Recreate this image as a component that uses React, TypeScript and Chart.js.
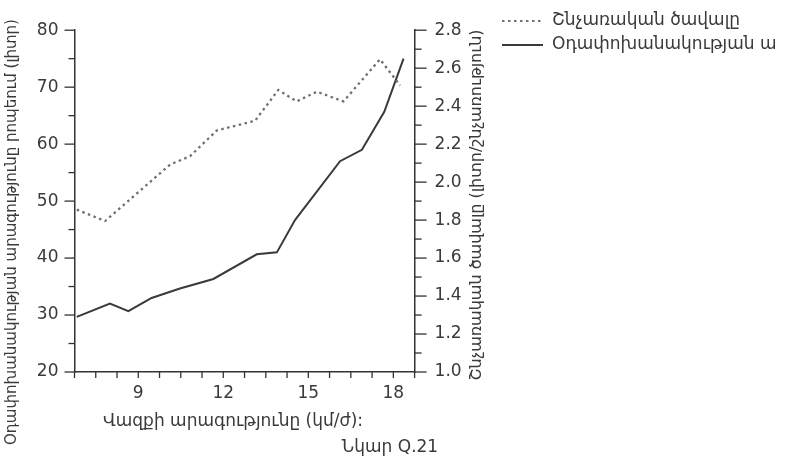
import React, { useEffect, useRef } from "react";
import { Chart, registerables } from "chart.js";

Chart.register(...registerables);

// ---- data ----
const volumeLabel = "Շնչառական ծավալը";
const ventLabel = "Օդափոխանակության արագությունը";
const xTitle = "Վազքի արագությունը (կմ/ժ):";
const leftTitle = "Օդափոխանակության արագությունը րոպեում (լիտր)";
const rightTitle = "Շնչառական ծավալը (լիտր/շնչառություն)";
const caption = "Նկար Q.21";

const dottedX = [6.83, 7.83, 10.12, 10.83, 11.77, 13.12, 13.94, 14.59, 15.3, 16.24, 17.53, 18.24];
const dottedY = [48.5, 46.5, 56.4, 57.9, 62.4, 64.1, 69.5, 67.5, 69.2, 67.5, 74.9, 70.3];

const solidX = [6.83, 8.0, 8.65, 9.47, 10.47, 11.65, 13.18, 13.89, 14.53, 16.12, 16.89, 17.68, 18.36];
const solidY = [1.29, 1.36, 1.32, 1.39, 1.44, 1.49, 1.62, 1.63, 1.8, 2.11, 2.17, 2.37, 2.65];

const xMin = 6.75, xMax = 18.75, xStep = 0.75;
const yMin = 20, yMax = 80, yStep = 5;
const y1Min = 1.0, y1Max = 2.8, y1Step = 0.1;

const AXIS = "#333333";
const TEXT = "#3a3a3a";
const FONT = "'DejaVu Sans', sans-serif";

const W = 777, H = 465;

const decor = {
  id: "decor",
  afterDraw(chart: any) {
    const ctx = chart.ctx;
    const sx = chart.scales.x, sy = chart.scales.y, sy1 = chart.scales.y1;
    ctx.save();
    ctx.strokeStyle = AXIS;
    ctx.lineWidth = 1.3;
    const line = (a: number, b: number, c: number, d: number) => {
      ctx.beginPath(); ctx.moveTo(a, b); ctx.lineTo(c, d); ctx.stroke();
    };
    sy.ticks.forEach((t: any) => {
      const py = sy.getPixelForValue(t.value);
      const major = Math.abs(t.value % 10) < 1e-6;
      line(sy.right - (major ? 10 : 6), py, sy.right, py);
    });
    sy1.ticks.forEach((t: any) => {
      const py = sy1.getPixelForValue(t.value);
      const major = Math.round(t.value * 10) % 2 === 0;
      line(sy1.left, py, sy1.left + (major ? 12 : 7), py);
    });
    sx.ticks.forEach((t: any) => {
      const px = sx.getPixelForValue(t.value);
      line(px, sx.top, px, sx.top + 6);
    });

    // legend
    ctx.lineWidth = 2.2;
    ctx.strokeStyle = "#707070";
    ctx.setLineDash([2.5, 3.5]);
    line(502, 21, 543, 21);
    ctx.setLineDash([]);
    ctx.strokeStyle = "#3a3a3a";
    line(502, 45, 543, 45);
    ctx.fillStyle = TEXT;
    ctx.font = `17px ${FONT}`;
    ctx.textAlign = "left";
    ctx.textBaseline = "middle";
    ctx.fillText(volumeLabel, 552, 21);
    ctx.fillText(ventLabel, 552, 45);

    // axis titles
    ctx.textAlign = "center";
    ctx.font = `17px ${FONT}`;
    ctx.fillText(xTitle, 233, 422);
    ctx.fillText(caption, 390, 448);
    ctx.font = `15px ${FONT}`;
    ctx.save();
    ctx.translate(12, 232);
    ctx.rotate(-Math.PI / 2);
    ctx.fillText(leftTitle, 0, 0);
    ctx.restore();
    ctx.font = `16px ${FONT}`;
    ctx.save();
    ctx.translate(477, 205);
    ctx.rotate(-Math.PI / 2);
    ctx.fillText(rightTitle, 0, 0);
    ctx.restore();
    ctx.restore();
  },
};

export default function App() {
  const ref = useRef<HTMLCanvasElement | null>(null);
  useEffect(() => {
    if (!ref.current) return;
    const chart = new Chart(ref.current, {
      type: "line",
      data: {
        datasets: [
          {
            label: volumeLabel,
            data: dottedX.map((x, i) => ({ x, y: dottedY[i] })),
            yAxisID: "y",
            borderColor: "#707070",
            borderWidth: 2.3,
            borderDash: [2.5, 3.5],
            pointRadius: 0,
            fill: false,
            tension: 0,
          },
          {
            label: ventLabel,
            data: solidX.map((x, i) => ({ x, y: solidY[i] })),
            yAxisID: "y1",
            borderColor: "#3a3a3a",
            borderWidth: 2,
            pointRadius: 0,
            fill: false,
            tension: 0,
          },
        ],
      },
      options: {
        responsive: false,
        animation: false,
        layout: { padding: { top: 20, right: W - 414.6 - 90, bottom: 0, left: 0 } },
        plugins: { legend: { display: false }, tooltip: { enabled: false }, title: { display: false } },
        scales: {
          x: {
            type: "linear",
            min: xMin,
            max: xMax,
            afterFit: (s: any) => { s.height = 93; },
            border: { display: true, color: AXIS, width: 1.5 },
            grid: { drawOnChartArea: false, drawTicks: false },
            ticks: {
              stepSize: xStep,
              autoSkip: false,
              maxRotation: 0,
              padding: 11,
              color: TEXT,
              font: { family: FONT, size: 17 },
              callback: (v: any) => {
                const n = Number(v);
                return Math.abs(n / 3 - Math.round(n / 3)) < 1e-6 ? String(Math.round(n)) : "";
              },
            },
          },
          y: {
            type: "linear",
            position: "left",
            min: yMin,
            max: yMax,
            afterFit: (s: any) => { s.width = 74.5; },
            border: { display: true, color: AXIS, width: 1.5 },
            grid: { drawOnChartArea: false, drawTicks: false },
            ticks: {
              stepSize: yStep,
              autoSkip: false,
              padding: 16,
              color: TEXT,
              font: { family: FONT, size: 17 },
              callback: (v: any) => (Math.abs(Number(v) % 10) < 1e-6 ? String(v) : ""),
            },
          },
          y1: {
            type: "linear",
            position: "right",
            min: y1Min,
            max: y1Max,
            afterFit: (s: any) => { s.width = 90; },
            border: { display: true, color: AXIS, width: 1.5 },
            grid: { drawOnChartArea: false, drawTicks: false },
            ticks: {
              stepSize: y1Step,
              autoSkip: false,
              padding: 20,
              color: TEXT,
              font: { family: FONT, size: 17 },
              callback: (v: any) => (Math.round(Number(v) * 10) % 2 === 0 ? Number(v).toFixed(1) : ""),
            },
          },
        },
      },
      plugins: [decor],
    });
    return () => chart.destroy();
  }, []);
  return (
    <div style={{ position: "absolute", left: 0, top: 0, width: W, height: H, background: "#fff" }}>
      <canvas ref={ref} width={W} height={H} style={{ display: "block" }} />
    </div>
  );
}
